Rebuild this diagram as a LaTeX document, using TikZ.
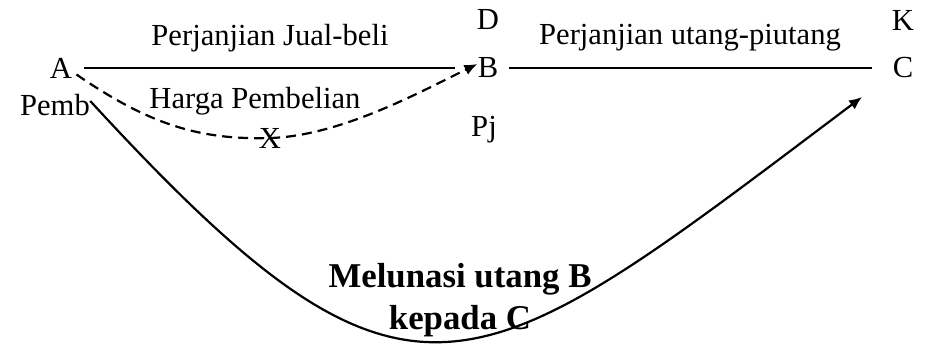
\documentclass[tikz,border=0pt]{standalone}
\usepackage{fontspec}
\setmainfont{Liberation Serif}
\usetikzlibrary{arrows.meta}

\tikzset{
  lbl/.style={inner sep=0pt,font=\fontsize{15.3}{18}\selectfont},
  tie/.style={line width=1pt},
  flow/.style={line width=1.1pt,-{Latex[length=6.5pt,width=5.5pt]}}
}

\begin{document}
\begin{tikzpicture}[x=0.5pt,y=-0.5pt]
\useasboundingbox (0,0) rectangle (926,343);
% parties
\node[lbl] (a) at (61,68) {A};
\node[lbl] (b) at (488,68) {B};
\node[lbl] (c) at (903,68) {C};
\node[lbl] (d) at (488,20) {D};
\node[lbl] (k) at (903,20) {K};
\node[lbl] (pemb) at (55,105) {Pemb};
\node[lbl] (pj) at (484,130) {Pj};
\node[lbl] (x) at (270,138) {X};
% agreements
\node[lbl] (jual) at (270,38) {Perjanjian Jual-beli};
\node[lbl] (utang) at (690,38) {Perjanjian utang-piutang};
\node[lbl] (harga) at (255,101) {Harga Pembelian};
\node[inner sep=0pt,align=center,font=\fontsize{17.4}{21}\selectfont\bfseries] (lunas) at (460,300) {Melunasi utang B\\kepada C};
\coordinate (tipc) at (862,97);
% connectors
\draw[tie,shorten <=6pt,shorten >=11pt] (a.east) -- (b.west);
\draw[tie,shorten <=5pt,shorten >=10pt] (b.east) -- (c.west);
\draw[flow,dash pattern=on 5pt off 3pt] ([xshift=2pt,yshift=2pt]a.south east) .. controls (150,125) and (200,140) .. (x.center)
  .. controls (340,136) and (420,92) .. ([yshift=2pt]b.west);
\draw[flow] ([xshift=0pt,yshift=2pt]pemb.east) .. controls (413,452) and (471,391) .. (tipc);
\end{tikzpicture}
\end{document}
